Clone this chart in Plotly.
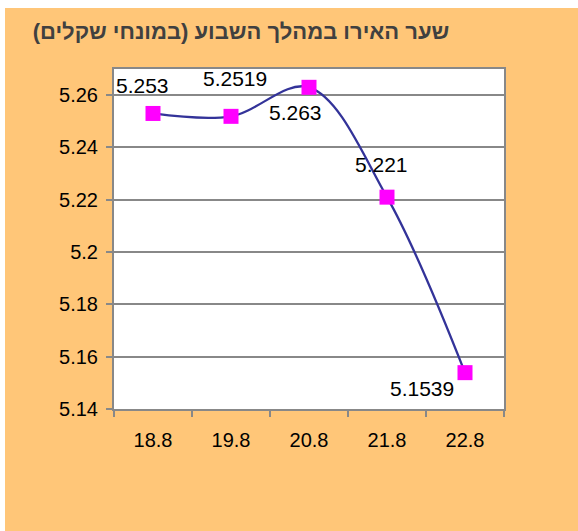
import plotly.graph_objects as go

categories = ["18.8", "19.8", "20.8", "21.8", "22.8"]
values = [5.253, 5.2519, 5.263, 5.221, 5.1539]
labels = ["5.253", "5.2519", "5.263", "5.221", "5.1539"]
label_shift_x = [-11, 4, -14, -6, -43]
label_shift_y = [28, 38, -25, 33, -16]
y_ticks = [5.14, 5.16, 5.18, 5.2, 5.22, 5.24, 5.26]
title_text = "שער האירו במהלך השבוע (במונחי שקלים)"

ORANGE = "#FFC678"
GRID = "#888888"
FONT = "Liberation Sans, Arial, sans-serif"

fig = go.Figure()
fig.add_trace(go.Scatter(
    x=categories, y=values, mode="lines+markers",
    line=dict(color="#333399", width=2.3, shape="spline", smoothing=1),
    marker=dict(symbol="square", size=15, color="#FF00FF"),
    hoverinfo="skip", showlegend=False,
))

for i, (v, t, dx, dy) in enumerate(zip(values, labels, label_shift_x, label_shift_y)):
    fig.add_annotation(x=i, y=v, xref="x", yref="y", text=t, showarrow=False,
                       xshift=dx, yshift=dy,
                       font=dict(family=FONT, size=21, color="black"))

fig.update_layout(
    width=573, height=523,
    margin=dict(l=109, r=74, t=61, b=122),
    paper_bgcolor=ORANGE, plot_bgcolor="white",
    title=dict(text=title_text, x=236/573, xanchor="center", xref="container",
               y=1 - 23/523, yanchor="middle",
               font=dict(family=FONT, size=22, color="#404040", weight="bold")),
    font=dict(family=FONT, size=20, color="black"),
)
fig.update_xaxes(
    type="category", tickson="boundaries", ticks="outside", ticklen=6, tickwidth=2,
    tickcolor=GRID, showline=True, linecolor=GRID, linewidth=2, mirror=True,
    showgrid=False, tickfont=dict(family=FONT, size=20, color="black"),
    ticklabelstandoff=12, range=[-0.5, 4.5],
)
fig.update_yaxes(
    range=[5.14, 5.27], tickvals=y_ticks, ticktext=[f"{v:g}" for v in y_ticks],
    ticks="outside", ticklen=6, tickwidth=2, tickcolor=GRID,
    showline=True, linecolor=GRID, linewidth=2, mirror=True,
    showgrid=True, gridcolor=GRID, gridwidth=2, zeroline=False,
    tickfont=dict(family=FONT, size=20, color="black"), ticklabelstandoff=4,
)

fig.write_html("out.html", post_script="document.body.style.margin='8px 0 0 5px';document.body.style.overflow='hidden';")
